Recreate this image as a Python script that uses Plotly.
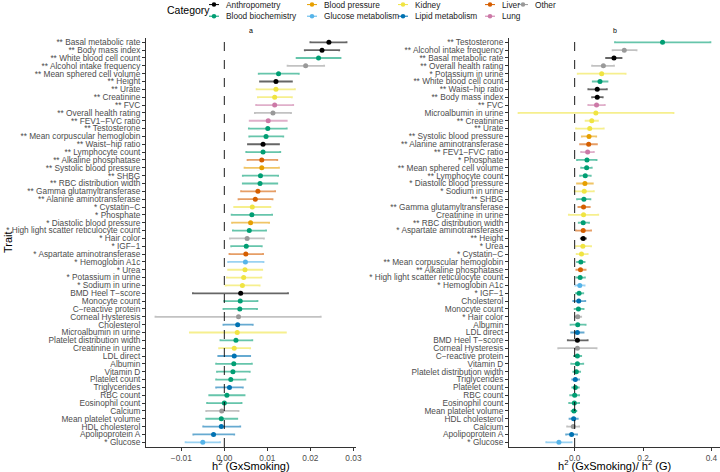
import plotly.graph_objects as go

# ---- data: panel a, h2 (GxSmoking), ordered top to bottom
traits_a = ["Basal metabolic rate", "Body mass index", "White blood cell count", "Alcohol intake frequency",
            "Mean sphered cell volume", "Height", "Urate", "Creatinine", "FVC", "Overall health rating",
            "FEV1−FVC ratio", "Testosterone", "Mean corpuscular hemoglobin", "Waist−hip ratio",
            "Lymphocyte count", "Alkaline phosphatase", "Systolic blood pressure", "SHBG",
            "RBC distribution width", "Gamma glutamyltransferase", "Alanine aminotransferase", "Cystatin−C",
            "Phosphate", "Diastolic blood pressure", "High light scatter reticulocyte count", "Hair color",
            "IGF−1", "Aspartate aminotransferase", "Hemoglobin A1c", "Urea", "Potassium in urine",
            "Sodium in urine", "BMD Heel T−score", "Monocyte count", "C−reactive protein", "Corneal Hysteresis",
            "Cholesterol", "Microalbumin in urine", "Platelet distribution width", "Creatinine in urine",
            "LDL direct", "Albumin", "Vitamin D", "Platelet count", "Triglycerides", "RBC count",
            "Eosinophil count", "Calcium", "Mean platelet volume", "HDL cholesterol", "Apolipoprotein A",
            "Glucose"]
stars_a = ["**"] * 21 + ["*"] * 11 + [""] * 19 + ["*"]
h2_a = [0.0243, 0.0227, 0.0219, 0.0189, 0.0126, 0.0120, 0.0120, 0.0117, 0.0117, 0.0113, 0.0102, 0.0101,
        0.0097, 0.0090, 0.0090, 0.0087, 0.0087, 0.0084, 0.0083, 0.0078, 0.0072, 0.0065, 0.0064, 0.0061,
        0.0058, 0.0053, 0.0051, 0.0050, 0.0049, 0.0048, 0.0045, 0.0042, 0.0038, 0.0037, 0.0036, 0.0033,
        0.0031, 0.0030, 0.0027, 0.0023, 0.0023, 0.0022, 0.0020, 0.0015, 0.0012, 0.0006, 0.0000, -0.0006,
        -0.0007, -0.0007, -0.0025, -0.0050]
lo_a = [0.0200, 0.0187, 0.0168, 0.0147, 0.0080, 0.0083, 0.0075, 0.0078, 0.0074, 0.0071, 0.0059, 0.0057,
        0.0058, 0.0055, 0.0051, 0.0054, 0.0047, 0.0043, 0.0043, 0.0039, 0.0033, 0.0023, 0.0017, 0.0018,
        0.0020, 0.0013, 0.0016, 0.0012, 0.0009, 0.0009, 0.0006, 0.0003, -0.0073, 0.0000, -0.0002, -0.0160,
        -0.0002, -0.0080, -0.0009, -0.0012, -0.0014, -0.0019, -0.0017, -0.0019, -0.0019, -0.0035, -0.0040,
        -0.0042, -0.0042, -0.0049, -0.0072, -0.0090]
hi_a = [0.0284, 0.0267, 0.0270, 0.0232, 0.0173, 0.0157, 0.0164, 0.0157, 0.0160, 0.0155, 0.0145, 0.0145,
        0.0137, 0.0127, 0.0130, 0.0123, 0.0127, 0.0125, 0.0123, 0.0118, 0.0112, 0.0107, 0.0111, 0.0104,
        0.0097, 0.0092, 0.0087, 0.0090, 0.0091, 0.0088, 0.0086, 0.0082, 0.0148, 0.0077, 0.0076, 0.0224,
        0.0066, 0.0143, 0.0065, 0.0060, 0.0060, 0.0064, 0.0059, 0.0049, 0.0043, 0.0047, 0.0040, 0.0033,
        0.0030, 0.0037, 0.0023, -0.0010]

# ---- data: panel b, h2 (GxSmoking) / h2 (G), ordered top to bottom
traits_b = ["Testosterone", "Alcohol intake frequency", "Basal metabolic rate", "Overall health rating",
            "Potassium in urine", "White blood cell count", "Waist−hip ratio", "Body mass index", "FVC",
            "Microalbumin in urine", "Creatinine", "Urate", "Systolic blood pressure", "Alanine aminotransferase",
            "FEV1−FVC ratio", "Phosphate", "Mean sphered cell volume", "Lymphocyte count",
            "Diastolic blood pressure", "Sodium in urine", "SHBG", "Gamma glutamyltransferase",
            "Creatinine in urine", "RBC distribution width", "Aspartate aminotransferase", "Height", "Urea",
            "Cystatin−C", "Mean corpuscular hemoglobin", "Alkaline phosphatase",
            "High light scatter reticulocyte count", "Hemoglobin A1c", "IGF−1", "Cholesterol", "Monocyte count",
            "Hair color", "Albumin", "LDL direct", "BMD Heel T−score", "Corneal Hysteresis", "C−reactive protein",
            "Vitamin D", "Platelet distribution width", "Triglycerides", "Platelet count", "RBC count",
            "Eosinophil count", "Mean platelet volume", "HDL cholesterol", "Calcium", "Apolipoprotein A", "Glucose"]
ratio_b = [0.257, 0.145, 0.115, 0.084, 0.079, 0.074, 0.066, 0.066, 0.064, 0.062, 0.050, 0.044, 0.042, 0.041,
           0.038, 0.036, 0.035, 0.031, 0.030, 0.028, 0.027, 0.026, 0.026, 0.025, 0.025, 0.025, 0.024, 0.020,
           0.018, 0.017, 0.016, 0.015, 0.013, 0.012, 0.011, 0.009, 0.009, 0.008, 0.008, 0.008, 0.008, 0.008,
           0.005, 0.002, 0.002, 0.000, -0.001, -0.002, -0.003, -0.004, -0.009, -0.046]
lo_b = [0.118, 0.111, 0.092, 0.051, 0.009, 0.053, 0.040, 0.051, 0.040, -0.164, 0.032, 0.004, 0.021, 0.016,
        0.019, 0.007, 0.019, 0.016, 0.007, 0.000, 0.007, 0.011, -0.017, 0.012, 0.004, 0.018, 0.004, 0.006,
        0.007, 0.005, 0.005, 0.002, 0.004, -0.004, 0.000, 0.002, -0.012, -0.010, -0.020, -0.048, -0.002,
        -0.010, -0.004, -0.007, -0.007, -0.013, -0.016, -0.009, -0.015, -0.022, -0.025, -0.083]
hi_b = [0.397, 0.181, 0.137, 0.115, 0.149, 0.096, 0.094, 0.082, 0.088, 0.289, 0.068, 0.085, 0.063, 0.065,
        0.056, 0.064, 0.050, 0.047, 0.053, 0.056, 0.046, 0.044, 0.069, 0.042, 0.048, 0.033, 0.048, 0.038,
        0.029, 0.032, 0.030, 0.029, 0.025, 0.031, 0.026, 0.019, 0.032, 0.026, 0.038, 0.064, 0.019, 0.025,
        0.016, 0.013, 0.012, 0.013, 0.013, 0.005, 0.009, 0.013, 0.007, -0.009]

categories = ["Anthropometry", "Blood biochemistry", "Blood pressure", "Glucose metabolism", "Kidney",
              "Lipid metabolism", "Liver", "Lung", "Other"]
cat_colors = ["#000000", "#009E73", "#E69F00", "#56B4E9", "#F0E442", "#0072B2", "#D55E00", "#CC79A7", "#999999"]
cat_members = {
    "Anthropometry": ["Basal metabolic rate", "Body mass index", "Height", "Waist−hip ratio", "BMD Heel T−score"],
    "Blood pressure": ["Systolic blood pressure", "Diastolic blood pressure"],
    "Glucose metabolism": ["Hemoglobin A1c", "Glucose"],
    "Kidney": ["Urate", "Creatinine", "Cystatin−C", "Urea", "Potassium in urine", "Sodium in urine",
               "Microalbumin in urine", "Creatinine in urine"],
    "Lipid metabolism": ["Cholesterol", "LDL direct", "Triglycerides", "HDL cholesterol", "Apolipoprotein A"],
    "Liver": ["Alkaline phosphatase", "Gamma glutamyltransferase", "Alanine aminotransferase",
              "Aspartate aminotransferase"],
    "Lung": ["FVC", "FEV1−FVC ratio"],
    "Other": ["Alcohol intake frequency", "Overall health rating", "Hair color", "Corneal Hysteresis", "Calcium"],
}


def category_of(trait):
    for cat, members in cat_members.items():
        if trait in members:
            return cat
    return "Blood biochemistry"


def rgba(hex_color, alpha):
    h = hex_color.lstrip("#")
    return "rgba(%d,%d,%d,%.2f)" % (int(h[0:2], 16), int(h[2:4], 16), int(h[4:6], 16), alpha)


star_of = dict(zip(traits_a, stars_a))


def label(trait):
    s = star_of[trait]
    return (s + " " + trait) if s else trait


labels_a = [label(t) for t in traits_a]
labels_b = [label(t) for t in traits_b]

FONT = "Liberation Sans, Arial, sans-serif"
W, H = 720, 472

fig = go.Figure()

panels = [
    (traits_a, labels_a, h2_a, lo_a, hi_a, "x", "y"),
    (traits_b, labels_b, ratio_b, lo_b, hi_b, "x2", "y2"),
]
for traits, labels, val, lo, hi, xa, ya in panels:
    for cat, col in zip(categories, cat_colors):
        idx = [i for i, t in enumerate(traits) if category_of(t) == cat]
        if not idx:
            continue
        fig.add_trace(go.Scatter(
            x=[val[i] for i in idx], y=[labels[i] for i in idx],
            mode="markers", xaxis=xa, yaxis=ya, showlegend=False, name=cat,
            marker=dict(color=col, size=5),
            error_x=dict(type="data", symmetric=False,
                         array=[hi[i] - val[i] for i in idx],
                         arrayminus=[val[i] - lo[i] for i in idx],
                         color=rgba(col, 0.6), thickness=1.8, width=1),
        ))

# ---- legend drawn on a hidden pixel-space axis (two rows, filled column by column)
key_x = [214, 312, 403, 490, 523]
row_y = [4.6, 16.2]
annotations = []
for k, (cat, col) in enumerate(zip(categories, cat_colors)):
    kx, ky = key_x[k // 2], row_y[k % 2]
    fig.add_trace(go.Scatter(
        x=[kx], y=[ky], mode="markers", xaxis="x3", yaxis="y3", showlegend=False,
        marker=dict(color=col, size=4.5), cliponaxis=False,
        error_x=dict(type="constant", value=5, color=col, thickness=1, width=0),
    ))
    annotations.append(dict(x=kx + 10, y=ky, xref="x3", yref="y3", text=cat, showarrow=False,
                            xanchor="left", yanchor="middle", font=dict(size=8.3, color="#1a1a1a")))

annotations += [
    dict(x=165 / W, y=1 - 10.4 / H, xref="paper", yref="paper", text="Category", showarrow=False,
         xanchor="left", yanchor="middle", font=dict(size=10.5, color="black")),
    dict(x=251 / W, y=1 - 30 / H, xref="paper", yref="paper", text="a", showarrow=False,
         xanchor="center", yanchor="middle", font=dict(size=7, color="black")),
    dict(x=614.5 / W, y=1 - 30 / H, xref="paper", yref="paper", text="b", showarrow=False,
         xanchor="center", yanchor="middle", font=dict(size=7, color="black")),
    dict(x=8 / W, y=1 - 242 / H, xref="paper", yref="paper", text="Trait", showarrow=False, textangle=-90,
         xanchor="center", yanchor="middle", font=dict(size=11, color="black")),
    dict(x=251 / W, y=1 - 465 / H, xref="paper", yref="paper", text="h<sup>2</sup> (GxSmoking)",
         showarrow=False, xanchor="center", yanchor="middle", font=dict(size=11, color="black")),
    dict(x=614.5 / W, y=1 - 465 / H, xref="paper", yref="paper",
         text="h<sup>2</sup> (GxSmoking)/ h<sup>2</sup> (G)",
         showarrow=False, xanchor="center", yanchor="middle", font=dict(size=11, color="black")),
]

y_dom = [1 - 447 / H, 1 - 37.6 / H]
axis_common = dict(showline=True, linecolor="#333333", linewidth=1, ticks="outside", ticklen=3,
                   tickcolor="#333333", showgrid=False, zeroline=False, automargin=False,
                   tickfont=dict(size=8.3, color="#4D4D4D"))
n = len(traits_a)

fig.update_layout(
    width=W, height=H, margin=dict(l=0, r=0, t=0, b=0),
    paper_bgcolor="white", plot_bgcolor="rgba(0,0,0,0)",
    font=dict(family=FONT),
    showlegend=False,
    xaxis=dict(domain=[146 / W, 356 / W], range=[-0.0182, 0.0306], anchor="y",
               tickvals=[-0.01, 0, 0.01, 0.02, 0.03], ticktext=["−0.01", "0.00", "0.01", "0.02", "0.03"],
               **axis_common),
    yaxis=dict(domain=y_dom, anchor="x", type="category", categoryorder="array",
               categoryarray=labels_a[::-1], tickmode="array", tickvals=labels_a, ticktext=labels_a,
               range=[-0.6, n - 0.4], **axis_common),
    xaxis2=dict(domain=[509 / W, 1], range=[-0.192, 0.425], anchor="y2",
                tickvals=[0, 0.2, 0.4], ticktext=["0.0", "0.2", "0.4"], **axis_common),
    yaxis2=dict(domain=y_dom, anchor="x2", type="category", categoryorder="array",
                categoryarray=labels_b[::-1], tickmode="array", tickvals=labels_b, ticktext=labels_b,
                range=[-0.6, n - 0.4], **axis_common),
    xaxis3=dict(domain=[0, 1], range=[0, W], visible=False, fixedrange=True),
    yaxis3=dict(domain=[0, 1], range=[H, 0], visible=False, fixedrange=True, anchor="x3"),
    annotations=annotations,
    shapes=[
        dict(type="line", xref="x", yref="y domain", x0=0, x1=0, y0=0, y1=1,
             line=dict(color="black", width=0.9, dash="dash")),
        dict(type="line", xref="x2", yref="y2 domain", x0=0, x1=0, y0=0, y1=1,
             line=dict(color="black", width=0.9, dash="dash")),
    ],
)

# the page body has a default 8px margin; drop it so the 720x472 figure fills the window
fig.write_html("out.html", config={"displayModeBar": False, "staticPlot": True},
               post_script="document.body.style.margin = '0';")
